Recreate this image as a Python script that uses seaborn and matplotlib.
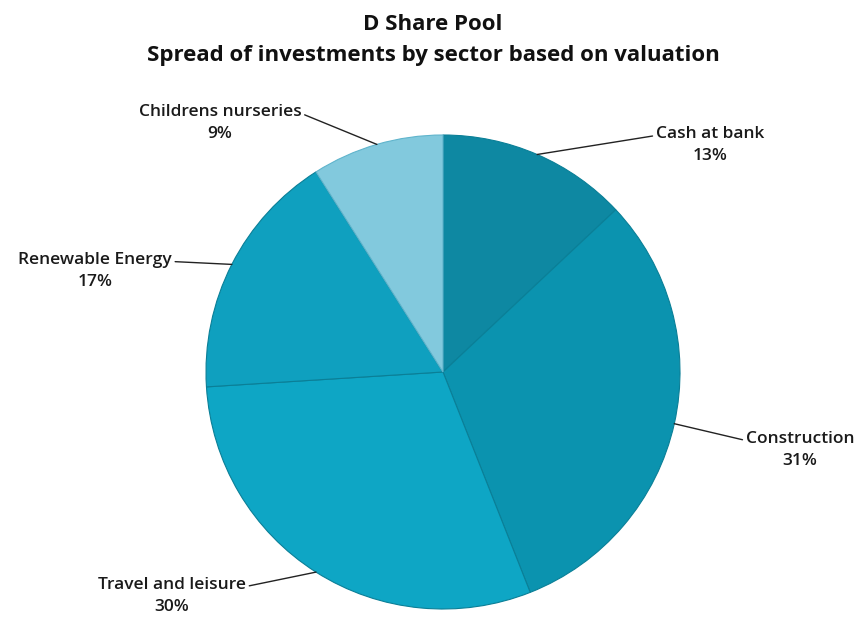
import numpy as np
import matplotlib
matplotlib.use("Agg")
import matplotlib.pyplot as plt
import seaborn as sns

sectors = ["Cash at bank", "Construction", "Travel and leisure",
           "Renewable Energy", "Childrens nurseries"]
shares = [13, 31, 30, 17, 9]
colours = ["#0e88a2", "#0b93af", "#0ea6c5", "#0fa0bf", "#82c9dd"]

# where the label text sits (pixels from top-left of the 866x622 image)
label_px = [(710, 145), (800, 450), (172, 596), (95, 271), (220, 123)]

sns.set_theme(style="white")
plt.rcParams["font.family"] = ["Open Sans", "DejaVu Sans"]

W, H = 866, 622
cx, cy, r = 443, 372, 237

fig = plt.figure(figsize=(W / 100, H / 100), dpi=100)
ax = fig.add_axes([0, 0, 1, 1])

wedges, _ = ax.pie(shares, colors=colours, startangle=90, counterclock=False,
                   radius=1, wedgeprops=dict(edgecolor="#0a7f97", linewidth=0.8))
# light rim on the pale slice
wedges[4].set_edgecolor("#5fb4cc")

ax.set_aspect("auto")
ax.set_xlim(-cx / r, (W - cx) / r)
ax.set_ylim((cy - H) / r, cy / r)
ax.axis("off")


def px2data(px, py):
    return (px - cx) / r, (cy - py) / r


for w, name, val, (lx, ly) in zip(wedges, sectors, shares, label_px):
    mid = np.deg2rad((w.theta1 + w.theta2) / 2)
    ex, ey = np.cos(mid), np.sin(mid)
    tx, ty = px2data(lx, ly)
    ax.annotate(f"{name}\n{val}%", xy=(ex, ey), xytext=(tx, ty),
                ha="center", va="center", fontsize=12.5, color="#1a1a1a",
                fontweight="semibold", linespacing=1.5,
                arrowprops=dict(arrowstyle="-", color="#222222", lw=1.0,
                                shrinkA=0, shrinkB=0,
                                relpos=(1.0, 0.75) if ex < 0 else (0.0, 0.75)))

fig.text(0.5, 1 - 24 / H, "D Share Pool", ha="center", va="center",
         fontsize=16, fontweight="bold", color="#111111")
fig.text(0.5, 1 - 55 / H, "Spread of investments by sector based on valuation",
         ha="center", va="center", fontsize=16, fontweight="bold", color="#111111")

fig.savefig("out.png", dpi=100, facecolor="white")
